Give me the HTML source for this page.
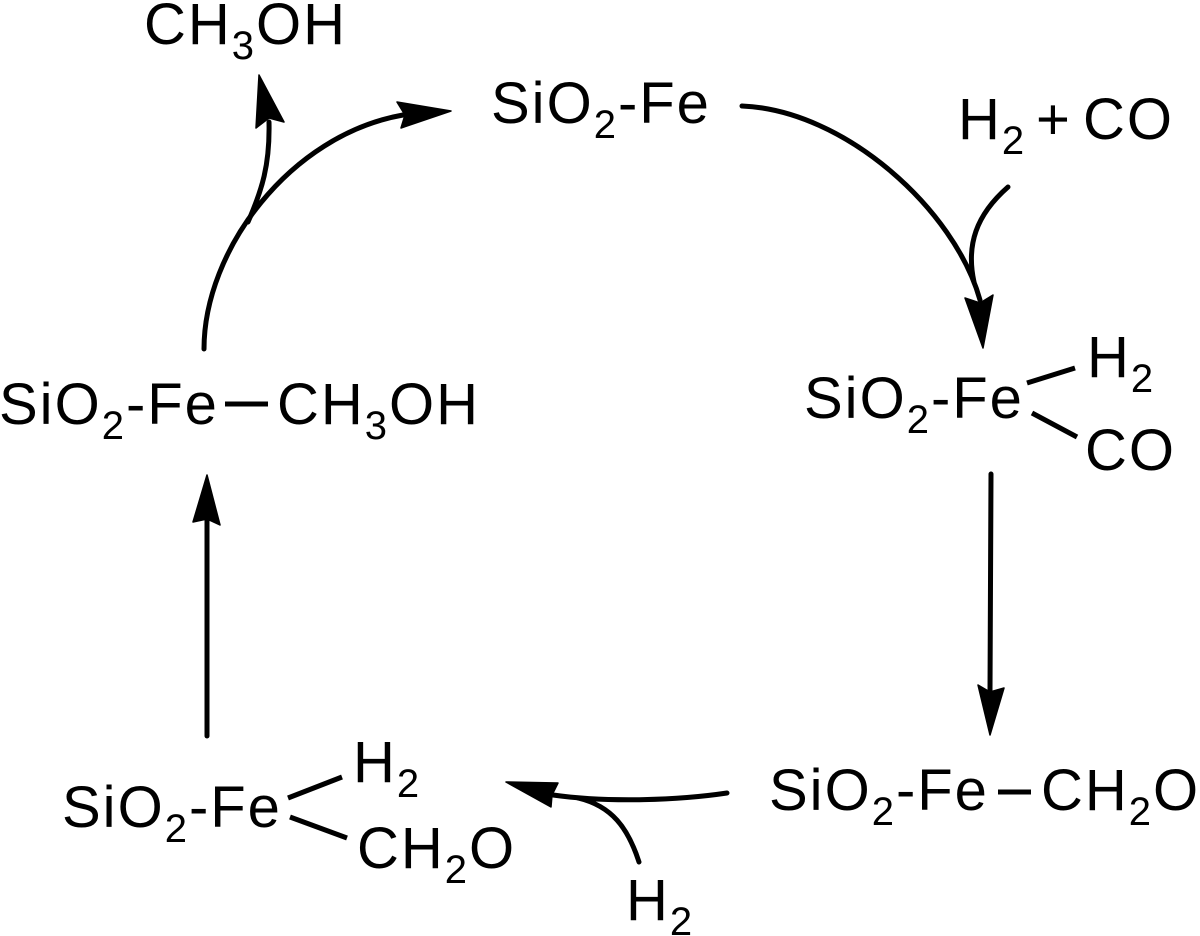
<!DOCTYPE html>
<html>
<head>
<meta charset="utf-8">
<style>
  html, body { margin: 0; padding: 0; background: #ffffff; }
  body { width: 1200px; height: 936px; overflow: hidden; }
  svg { display: block; }
  text { font-family: "Liberation Sans", Arial, sans-serif; font-size: 58px; fill: #000; letter-spacing: 2px; }
  .sub { font-size: 40px; }
</style>
</head>
<body>
<svg width="1200" height="936" viewBox="0 0 1200 936" xmlns="http://www.w3.org/2000/svg">
  <!-- top CH3OH -->
  <text x="144" y="44">CH<tspan class="sub" dy="15">3</tspan><tspan dy="-15">OH</tspan></text>
  <!-- top SiO2-Fe -->
  <text x="491" y="123">SiO<tspan class="sub" dy="15">2</tspan><tspan dy="-15">-Fe</tspan></text>
  <!-- H2 + CO -->
  <text x="958" y="139">H<tspan class="sub" dy="15">2</tspan></text>
  <text x="1036" y="139">+</text>
  <text x="1083" y="139">CO</text>

  <!-- right node -->
  <text x="804" y="418">SiO<tspan class="sub" dy="15">2</tspan><tspan dy="-15">-Fe</tspan></text>
  <text x="1087" y="377">H<tspan class="sub" dy="15">2</tspan></text>
  <text x="1085" y="470">CO</text>

  <!-- left node -->
  <text x="-1" y="424">SiO<tspan class="sub" dy="15">2</tspan><tspan dy="-15">-Fe</tspan></text>
  <text x="277" y="424">CH<tspan class="sub" dy="15">3</tspan><tspan dy="-15">OH</tspan></text>

  <!-- bottom right node -->
  <text x="769" y="810">SiO<tspan class="sub" dy="15">2</tspan><tspan dy="-15">-Fe</tspan></text>
  <text x="1041" y="810">CH<tspan class="sub" dy="15">2</tspan><tspan dy="-15">O</tspan></text>

  <!-- bottom left node -->
  <text x="62" y="827">SiO<tspan class="sub" dy="15">2</tspan><tspan dy="-15">-Fe</tspan></text>
  <text x="353" y="782">H<tspan class="sub" dy="15">2</tspan></text>
  <text x="357" y="868">CH<tspan class="sub" dy="15">2</tspan><tspan dy="-15">O</tspan></text>

  <!-- bottom H2 -->
  <text x="626" y="920">H<tspan class="sub" dy="15">2</tspan></text>

  <!-- Bonds -->
  <g stroke="#000" stroke-width="5" stroke-linecap="butt" fill="none">
    <line x1="225" y1="404" x2="268" y2="404"/>
    <line x1="998" y1="792" x2="1031" y2="792"/>
    <line x1="1027" y1="383" x2="1075" y2="368"/>
    <line x1="1032" y1="413" x2="1077" y2="437"/>
    <line x1="288" y1="798" x2="342" y2="777"/>
    <line x1="290" y1="817" x2="347" y2="838"/>
  </g>

  <!-- Arrow shafts -->
  <g stroke="#000" stroke-width="5" stroke-linecap="round" fill="none">
    <path d="M204,349 C204,250 290,135 403,115"/>
    <path d="M248,222 C262,190 270,165 269,122"/>
    <path d="M742,106 C845,110 955,210 980,300"/>
    <path d="M1008,187 C976,215 966,245 974,282"/>
    <line x1="991" y1="474" x2="990" y2="692"/>
    <path d="M727,793 C680,800 610,803 553,795"/>
    <path d="M639,862 C628,828 612,806 578,798"/>
    <line x1="207" y1="736" x2="207" y2="518"/>
  </g>

  <!-- Arrowheads -->
  <g fill="#000" stroke="#000" stroke-width="1.5" stroke-linejoin="round">
    <polygon points="259,75 284,122 269,118 256,128"/>
    <polygon points="451,111 401,128 405,115 397,102"/>
    <polygon points="983,348 965,298 980,303 993,295"/>
    <polygon points="990,735 978,685 990,692 1004,688"/>
    <polygon points="506,782 558,783 552,795 551,807"/>
    <polygon points="207,475 220,525 207,519 193,522"/>
  </g>
</svg>
</body>
</html>
